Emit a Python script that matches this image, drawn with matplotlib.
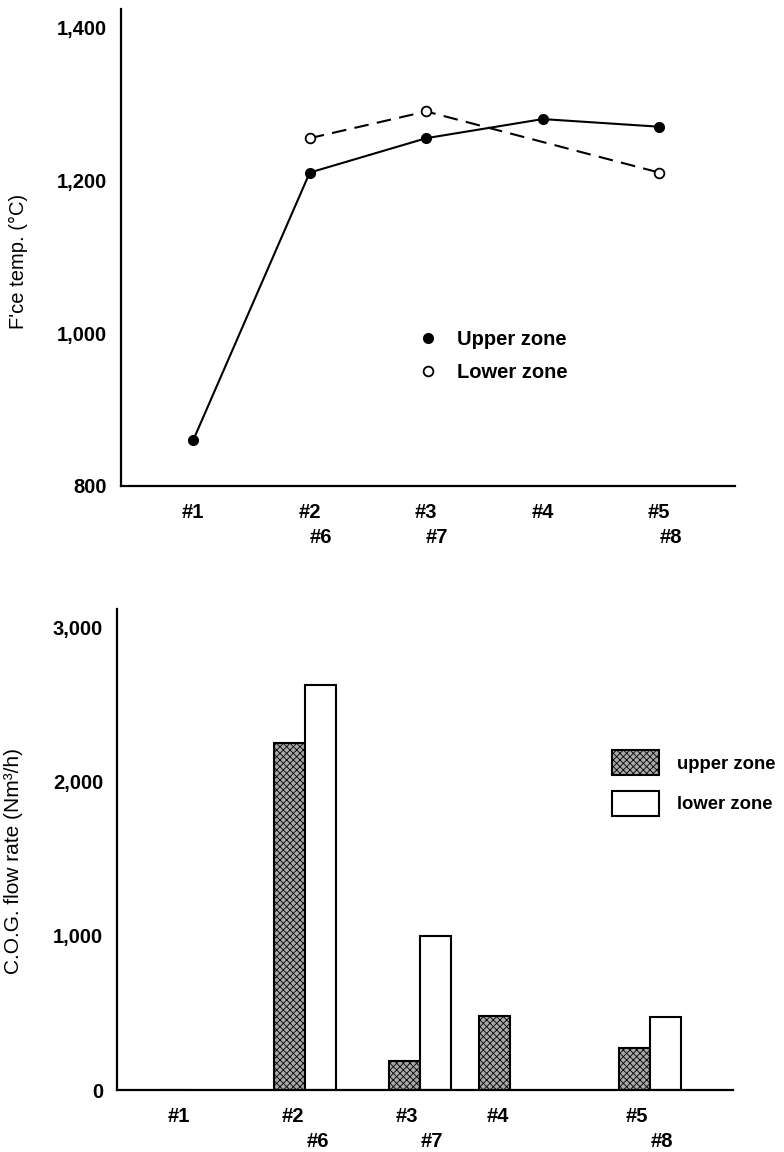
import matplotlib
matplotlib.use("Agg")
import matplotlib.pyplot as plt
from matplotlib.ticker import FuncFormatter
import numpy as np

plt.rcParams['font.family'] = ['Liberation Sans', 'DejaVu Sans']
plt.rcParams['hatch.linewidth'] = 0.6

# ---------------- data ----------------
categories = ['#1', '#2', '#3', '#4', '#5']
temp_upper = [860, 1210, 1255, 1280, 1270]
lower_labels = ['#6', '#7', '#8']
lower_groups = ['#2', '#3', '#5']
temp_lower = [1255, 1290, 1210]
temp_yticks = [800, 1000, 1200, 1400]

flow_upper = [0, 2250, 190, 480, 270]
flow_lower = [2630, 1000, 475]
flow_yticks = [0, 1000, 2000, 3000]

# ---------------- layout ----------------
W, H = 784, 1152
fig = plt.figure(figsize=(W / 100, H / 100), dpi=100)
fs = 14.5
comma = FuncFormatter(lambda v, p: f"{int(v):,}")

def style_axes(ax):
    for s in ('top', 'right'):
        ax.spines[s].set_visible(False)
    for s in ('left', 'bottom'):
        ax.spines[s].set_linewidth(1.6)
    ax.tick_params(axis='both', length=0, labelsize=fs)
    ax.tick_params(axis='y', pad=10)
    ax.tick_params(axis='x', pad=12)
    for lab in ax.get_xticklabels() + ax.get_yticklabels():
        lab.set_fontweight('bold')

# ---------- top: furnace temperature ----------
ax1 = fig.add_axes([121 / W, 1 - 486 / H, 614 / W, 477 / H])
xpos = np.arange(1, len(categories) + 1)
idx = {c: i for i, c in enumerate(categories)}
lower_x = [xpos[idx[g]] for g in lower_groups]

l_up, = ax1.plot(xpos, temp_upper, color='black', lw=1.5, marker='o',
                 ms=7, mfc='black', mec='black')
l_lo, = ax1.plot(lower_x, temp_lower, color='black', lw=1.5,
                 dashes=(7, 4), marker='o', ms=7, mfc='white', mec='black',
                 mew=1.3)
ax1.set_xlim(0.38, 5.65)
ax1.set_ylim(800, 1424)
ax1.set_yticks(temp_yticks)
ax1.yaxis.set_major_formatter(comma)
ax1.set_xticks(xpos, categories)
style_axes(ax1)
for lab, x in zip(lower_labels, lower_x):
    ax1.annotate(lab, xy=(x, 0), xycoords=('data', 'axes fraction'),
                 xytext=(8, -37), textcoords='offset points',
                 ha='center', va='center', fontsize=fs, fontweight='bold')
ax1.set_ylabel("F'ce temp. (°C)", fontsize=14.5)
ax1.yaxis.set_label_coords(-0.151, 0.47)
ax1.legend([l_up, l_lo], ['Upper zone', 'Lower zone'], handlelength=0,
           numpoints=1, frameon=False, prop={'size': fs, 'weight': 'bold'},
           handletextpad=1.45, labelspacing=0.66, borderpad=0,
           borderaxespad=0, loc='center left',
           bbox_to_anchor=(428 / W, 1 - 356 / H),
           bbox_transform=fig.transFigure)

# ---------- bottom: C.O.G. flow rate ----------
ax2 = fig.add_axes([117 / W, 1 - 1090 / H, 616 / W, 481 / H])
group_pos = np.array([1.9, 5.58, 9.26, 12.19, 16.68])
gidx = {c: i for i, c in enumerate(categories)}
low_pos = np.array([group_pos[gidx[g]] for g in lower_groups]) + 1.0

b_up = ax2.bar(group_pos, flow_upper, width=1.0, color='#a8a8a8',
               edgecolor='black', lw=1.5, hatch='xxxxx')
b_lo = ax2.bar(low_pos, flow_lower, width=1.0, color='white',
               edgecolor='black', lw=1.5)
ax2.set_xlim(0, 19.87)
ax2.set_ylim(0, 3120)
ax2.set_yticks(flow_yticks)
ax2.yaxis.set_major_formatter(comma)
ax2.set_xticks(group_pos + 0.1, categories)
style_axes(ax2)
for lab, x in zip(lower_labels, low_pos):
    ax2.annotate(lab, xy=(x, 0), xycoords=('data', 'axes fraction'),
                 xytext=(-2, -37), textcoords='offset points',
                 ha='center', va='center', fontsize=fs, fontweight='bold')
ax2.set_ylabel("C.O.G. flow rate (Nm³/h)", fontsize=15)
ax2.yaxis.set_label_coords(-0.153, 0.476)
lfs = 13.3
ax2.legend([b_up, b_lo], ['upper zone', 'lower zone'], frameon=False,
           prop={'size': lfs, 'weight': 'bold'},
           handlelength=47 / (lfs * 100 / 72), handleheight=31 / (lfs * 100 / 72),
           handletextpad=0.95, labelspacing=0.85, borderpad=0,
           borderaxespad=0, loc='center left',
           bbox_to_anchor=(612 / W, 1 - 783 / H),
           bbox_transform=fig.transFigure)

fig.savefig('out.png', dpi=100)
